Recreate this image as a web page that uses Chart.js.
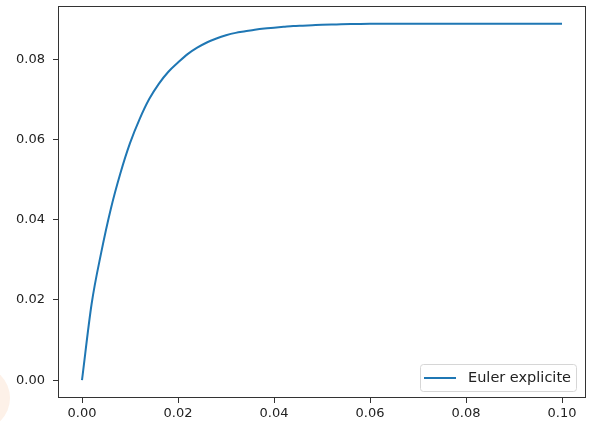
<!DOCTYPE html>
<html>
<head>
<meta charset="utf-8">
<script src="https://cdn.jsdelivr.net/npm/chart.js@4.4.1/dist/chart.umd.min.js"></script>
<style>
  html, body { margin: 0; padding: 0; background: #fff; }
  #wrap { width: 592px; height: 424px; }
</style>
</head>
<body>
<div id="wrap"><canvas id="eulerChart" width="592" height="424"></canvas></div>
<script>
// time steps (s) and Euler explicit solution
const times = [
    0, 0.002, 0.004, 0.006, 0.008, 0.010, 0.012, 0.014, 0.016, 0.018,
    0.020, 0.022, 0.024, 0.026, 0.028, 0.030, 0.032, 0.034, 0.036, 0.038,
    0.040, 0.042, 0.044, 0.046, 0.048, 0.050, 0.053, 0.056, 0.060, 0.065,
    0.070, 0.075, 0.080, 0.085, 0.090, 0.095, 0.100
]
const eulerValues = [
    0, 0.0190, 0.0318, 0.0427, 0.0516, 0.0591, 0.0651, 0.0701, 0.0739, 0.0769,
    0.0792, 0.0813, 0.0829, 0.0842, 0.0852, 0.0860, 0.0866, 0.0870, 0.0874, 0.0877,
    0.0879, 0.0881, 0.0883, 0.0884, 0.0885, 0.0886, 0.0887, 0.0888, 0.0889, 0.0889,
    0.0889, 0.0889, 0.0889, 0.0889, 0.0889, 0.0889, 0.0889
]
const xTicks = [0, 0.02, 0.04, 0.06, 0.08, 0.10]
const yTicks = [0, 0.02, 0.04, 0.06, 0.08]
const seriesLabel = 'Euler explicite'

const FONT = 'DejaVu Sans'
const AXIS_COLOR = '#333'

// full box around the plot, like matplotlib spines
const frame = {
    id: 'frame',
    beforeDraw(chart) {
        const c = chart.ctx
        // faint watermark blob in the bottom-left corner of the picture
        c.save()
        c.fillStyle = '#fdf1e8'
        c.beginPath()
        c.arc(-22, 398, 32, 0, Math.PI * 2)
        c.fill()
        c.restore()
    },
    afterDraw(chart) {
        const { left, top, right, bottom } = chart.chartArea
        const c = chart.ctx
        c.save()
        c.strokeStyle = AXIS_COLOR
        c.lineWidth = 1
        c.strokeRect(Math.round(left) + 0.5, Math.round(top) + 0.5, Math.round(right - left) - 1, Math.round(bottom - top) - 1)
        c.restore()
    }
}

// legend box in the lower right corner
const boxLegend = {
    id: 'boxLegend',
    afterDraw(chart) {
        const c = chart.ctx
        const { right, bottom } = chart.chartArea
        const ds = chart.data.datasets[0]
        c.save()
        c.font = '14.5px "' + FONT + '"'
        const w = 156
        const h = 27
        const x = right - 10 - w
        const y = bottom - 7 - h
        c.beginPath()
        c.roundRect(x + 0.5, y + 0.5, w, h, 3)
        c.fillStyle = 'rgba(255,255,255,0.8)'
        c.fill()
        c.strokeStyle = '#d6d6d6'
        c.lineWidth = 1
        c.stroke()
        c.beginPath()
        c.moveTo(x + 4, y + h / 2 + 0.5)
        c.lineTo(x + 4 + 32, y + h / 2 + 0.5)
        c.strokeStyle = ds.borderColor
        c.lineWidth = 2
        c.stroke()
        c.fillStyle = '#222'
        c.textBaseline = 'middle'
        c.fillText(ds.label, x + 48, y + h / 2 + 1)
        c.restore()
    }
}

new Chart(document.getElementById('eulerChart').getContext('2d'), {
    type: 'line',
    data: {
        datasets: [
            {
                label: seriesLabel,
                data: times.map((t, i) => ({ x: t, y: eulerValues[i] })),
                borderColor: '#1f77b4',
                borderWidth: 2,
                pointRadius: 0,
                cubicInterpolationMode: 'monotone',
                fill: false,
            },
        ],
    },
    options: {
        responsive: false,
        animation: false,
        layout: { padding: { left: 0, top: 6, right: 6, bottom: 0 } },
        plugins: {
            legend: { display: false },
            tooltip: { enabled: false },
        },
        scales: {
            x: {
                type: 'linear',
                min: -0.005,
                max: 0.105,
                afterBuildTicks: (scale) => { scale.ticks = xTicks.map(v => ({ value: v })) },
                afterFit: (scale) => {
                    scale.height = 26
                    scale.paddingLeft = 0
                    scale.paddingRight = 0
                },
                grid: { drawOnChartArea: false, drawTicks: true, tickLength: 5, color: AXIS_COLOR },
                border: { display: false },
                ticks: {
                    color: '#222',
                    padding: 3,
                    maxRotation: 0,
                    font: { family: FONT, size: 13 },
                    callback: (v) => v.toFixed(2),
                },
            },
            y: {
                type: 'linear',
                min: -0.00444,
                max: 0.0933,
                afterBuildTicks: (scale) => { scale.ticks = yTicks.map(v => ({ value: v })) },
                afterFit: (scale) => {
                    scale.width = 58
                    scale.paddingTop = 0
                    scale.paddingBottom = 0
                },
                grid: { drawOnChartArea: false, drawTicks: true, tickLength: 5, color: AXIS_COLOR },
                border: { display: false },
                ticks: {
                    color: '#222',
                    padding: 8,
                    font: { family: FONT, size: 13 },
                    callback: (v) => v.toFixed(2),
                },
            },
        },
    },
    plugins: [frame, boxLegend],
})
</script>
</body>
</html>
